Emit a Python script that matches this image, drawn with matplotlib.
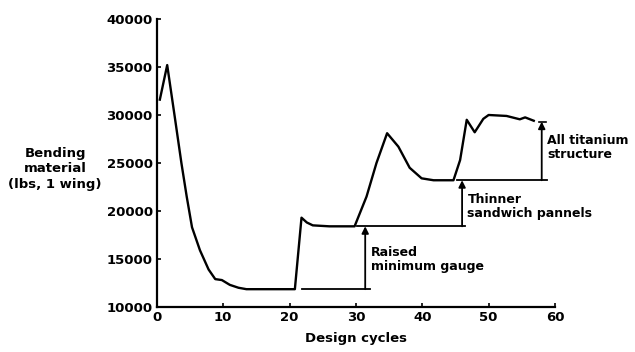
import matplotlib
matplotlib.use('Agg')
import matplotlib.pyplot as plt

# design history
cycles = [0.45, 1.56, 2.7, 3.7, 4.5, 5.3, 6.5, 7.8, 8.8, 9.8, 11.0, 12.3, 13.5,
          17.0, 20.8, 21.8, 22.6, 23.5, 26.0, 29.8, 31.6, 33.1, 34.7, 36.4, 38.1,
          39.9, 41.7, 44.7, 45.7, 46.7, 47.9, 49.2, 50.0, 52.7, 54.7, 55.5, 56.8]
weight = [31600, 35200, 29800, 25000, 21500, 18300, 15900, 13900, 12900, 12800,
          12300, 12000, 11850, 11850, 11850, 19300, 18800, 18500, 18400, 18400,
          21500, 25000, 28100, 26700, 24500, 23400, 23200, 23200, 25300, 29500,
          28200, 29600, 30000, 29900, 29550, 29750, 29400]

# step annotations: arrow x, base level, top level, line start/end, label
steps_x = [31.4, 46.0, 58.0]
steps_lo = [11850, 18400, 23200]
steps_hi = [18400, 23200, 29300]
steps_from = [21.9, 30.2, 45.2]
steps_to = [32.1, 46.4, 58.8]
steps_text = ['Raised\nminimum gauge', 'Thinner\nsandwich pannels', 'All titanium\nstructure']
text_y = [14900, 20500, 26600]

plt.rcParams['font.family'] = 'DejaVu Sans'
plt.rcParams['font.weight'] = 'bold'

fig = plt.figure(figsize=(6.35, 3.52), dpi=100)
ax = fig.add_axes([0.247, 0.128, 0.627, 0.818])

ax.plot(cycles, weight, color='black', lw=1.7)

for x, lo, hi, x0, x1, txt, ty in zip(steps_x, steps_lo, steps_hi, steps_from,
                                      steps_to, steps_text, text_y):
    ax.plot([x0, x1], [lo, lo], color='black', lw=1.3)
    ax.annotate('', xy=(x, hi), xytext=(x, lo),
                arrowprops=dict(arrowstyle='-|>', color='black', lw=1.3,
                                mutation_scale=10, shrinkA=0, shrinkB=0))
    ax.text(x + 0.8, ty, txt, fontsize=9, fontweight='bold',
            va='center', ha='left', linespacing=1.1)
ax.plot([57.6, 58.6], [steps_hi[2], steps_hi[2]], color='black', lw=1.2)

ax.set_xlim(0, 60)
ax.set_ylim(10000, 40000)
ax.set_xticks([0, 10, 20, 30, 40, 50, 60])
ax.set_yticks([10000, 15000, 20000, 25000, 30000, 35000, 40000])
ax.tick_params(direction='in', length=3, width=1.2, labelsize=9.5, pad=3)
for lab in ax.get_xticklabels() + ax.get_yticklabels():
    lab.set_fontweight('bold')
for s in ['top', 'right']:
    ax.spines[s].set_visible(False)
for s in ['left', 'bottom']:
    ax.spines[s].set_linewidth(1.6)

ax.set_xlabel('Design cycles', fontsize=9.5, fontweight='bold', labelpad=6)
fig.text(0.087, 0.52, 'Bending\nmaterial\n(lbs, 1 wing)', fontsize=9.5, fontweight='bold',
         ha='center', va='center', linespacing=1.25)

fig.savefig('out.png', dpi=100)
